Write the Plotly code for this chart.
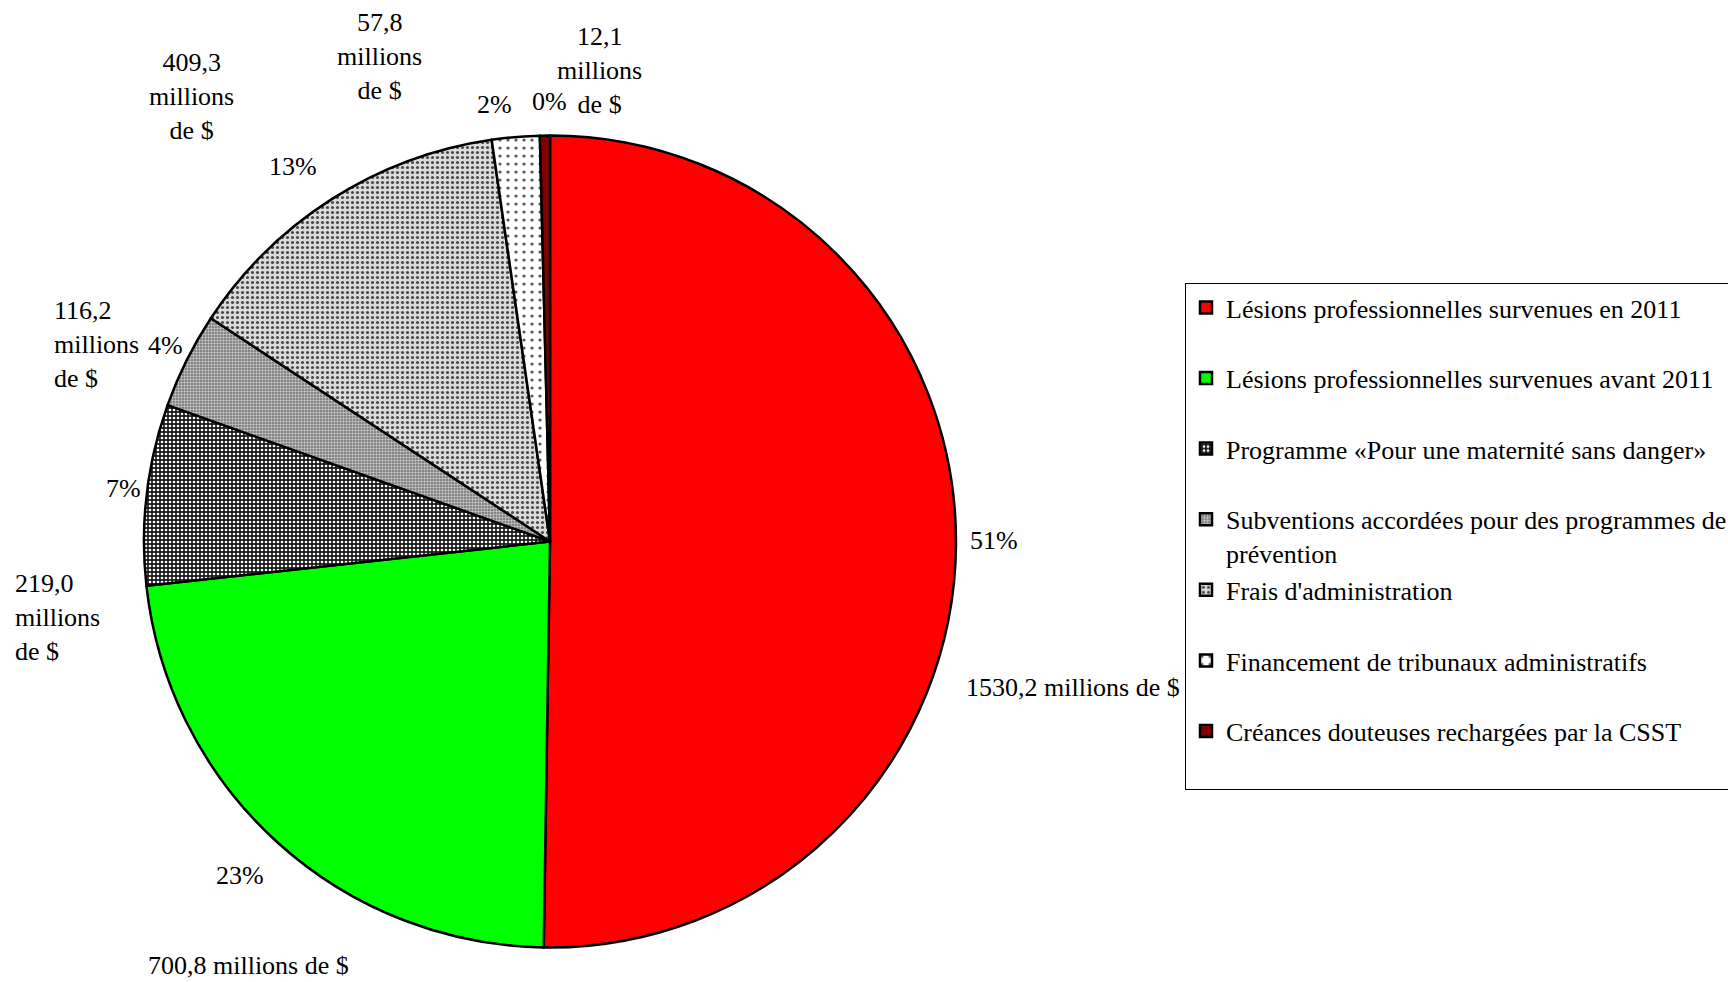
import plotly.graph_objects as go

# Répartition des coûts (millions de $)
categories = [
    "Lésions professionnelles survenues en 2011",
    "Lésions professionnelles survenues avant 2011",
    "Programme «Pour une maternité sans danger»",
    "Subventions accordées pour des programmes de<br>prévention",
    "Frais d'administration",
    "Financement de tribunaux administratifs",
    "Créances douteuses rechargées par la CSST",
]
montants = [1530.2, 700.8, 219.0, 116.2, 409.3, 57.8, 12.1]
pourcentages = ["51%", "23%", "7%", "4%", "13%", "2%", "0%"]

couleurs = ["#ff0000", "#00ff00", "#1a1a1a", "#6e6e6e", "#dcdcdc", "#ffffff", "#800000"]
motifs = ["", "", ".", ".", ".", ".", ""]
motif_fg = ["#000", "#000", "#ffffff", "#c8c8c8", "#4a4a4a", "#555555", "#000"]
motif_size = [4, 4, 4, 3, 5, 8, 4]
motif_solid = [0.3, 0.3, 0.35, 0.5, 0.3, 0.12, 0.3]

W, H = 1728, 982
FONT = "Liberation Serif, Times New Roman, serif"


def fmt_montant(v, multiligne):
    s = f"{v:.1f}".replace(".", ",")
    return f"{s}<br>millions<br>de $" if multiligne else f"{s} millions de $"


legend_labels = [c if "<br>" in c else c + "<br> " for c in categories]

fig = go.Figure(
    go.Pie(
        labels=legend_labels,
        values=montants,
        sort=False,
        direction="clockwise",
        rotation=0,
        textinfo="none",
        hoverinfo="label+value",
        marker=dict(
            colors=couleurs,
            line=dict(color="#000000", width=2.5),
            pattern=dict(
                shape=motifs,
                fgcolor=motif_fg,
                bgcolor=couleurs,
                size=motif_size,
                solidity=motif_solid,
                fillmode="replace",
            ),
        ),
        domain=dict(x=[144 / W, 956 / W], y=[1 - 948 / H, 1 - 135 / H]),
    )
)

# (pixel position, texte, alignement) for each outside label
label_pos = [
    # pourcentages
    (994, 540, pourcentages[0], "center"),
    (240, 875, pourcentages[1], "center"),
    (123, 488, pourcentages[2], "center"),
    (165, 345, pourcentages[3], "center"),
    (293, 167, pourcentages[4], "center"),
    (495, 105, pourcentages[5], "center"),
    (549, 102, pourcentages[6], "center"),
    # montants
    (1073, 687, fmt_montant(montants[0], False), "center"),
    (249, 965, fmt_montant(montants[1], False), "center"),
    (13, 617, fmt_montant(montants[2], True), "left"),
    (52, 344, fmt_montant(montants[3], True), "left"),
    (191, 97, fmt_montant(montants[4], True), "center"),
    (379, 56, fmt_montant(montants[5], True), "center"),
    (599, 71, fmt_montant(montants[6], True), "center"),
]

annotations = []
for px, py, txt, al in label_pos:
    annotations.append(
        dict(
            x=px / W,
            y=1 - py / H,
            xref="paper",
            yref="paper",
            text=txt,
            showarrow=False,
            align=al,
            xanchor="left" if al == "left" else "center",
            yanchor="middle",
            font=dict(size=26, color="#000000", family=FONT),
        )
    )

fig.update_layout(
    width=W,
    height=H,
    margin=dict(l=0, r=0, t=0, b=0, autoexpand=False),
    paper_bgcolor="#ffffff",
    plot_bgcolor="#ffffff",
    font=dict(family=FONT, size=26, color="#000000"),
    annotations=annotations,
    showlegend=True,
    legend=dict(
        x=1185 / W,
        y=1 - 283 / H,
        xanchor="left",
        yanchor="top",
        bordercolor="#000000",
        borderwidth=1,
        bgcolor="#ffffff",
        valign="top",
        font=dict(size=26, family=FONT, color="#000000"),
        itemclick=False,
    ),
)

fig.write_html("out.html")
